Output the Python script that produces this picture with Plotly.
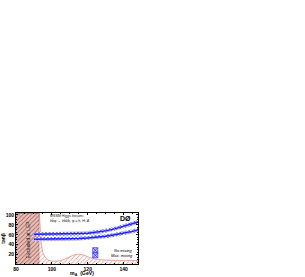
import plotly.graph_objects as go

# ---- data ----
ma_lim = [90, 95, 100, 105, 110, 115, 120, 125, 130, 135, 140, 145, 148]
tb_nomix = [61, 61, 61, 61.5, 62, 62.5, 63, 65, 68, 72, 77, 82, 86]
tb_maxmix = [51, 51, 51, 51.5, 52, 52.5, 53.5, 55, 57, 60, 63, 67, 70]
band_halfwidth = 4

lep_ma = [80, 93]
lep_top = 104

ma_low = [93, 93.5, 94, 94.5, 95, 96, 97, 98, 100, 103, 106, 109, 112, 115, 118, 121, 125, 130, 135, 140, 148]
tb_low = [104, 70, 45, 32, 24, 16, 12, 9, 7, 7, 9, 14, 19, 21, 19, 14, 10, 9, 8, 8, 8]

x_ticks = [80, 100, 120, 140]
y_ticks = [20, 40, 60, 80, 100]

FONT = "Liberation Sans"
BLUE = "#1f1fff"

fig = go.Figure()

# LEP excluded region
fig.add_trace(go.Scatter(
    x=[lep_ma[0], lep_ma[1], lep_ma[1], lep_ma[0]],
    y=[0, 0, lep_top, lep_top],
    fill="toself", mode="lines",
    line=dict(color="#a83a3a", width=0.8),
    fillcolor="#e3bcb4",
    fillpattern=dict(shape="/", fgcolor="#b0645c", bgcolor="#e6c4bd", size=3, solidity=0.3),
    hoverinfo="skip", showlegend=False))

# lower theoretical region
fig.add_trace(go.Scatter(
    x=ma_low + [ma_low[-1], ma_low[0]],
    y=tb_low + [0, 0],
    fill="toself", mode="lines",
    line=dict(color="#d89890", width=0.8),
    fillpattern=dict(shape="/", fgcolor="#e0aaa4", bgcolor="white", size=3, solidity=0.3),
    hoverinfo="skip", showlegend=False))

# bands
for vals in (tb_nomix, tb_maxmix):
    up = [v + band_halfwidth for v in vals]
    lo = [v - band_halfwidth for v in vals]
    fig.add_trace(go.Scatter(
        x=ma_lim + ma_lim[::-1], y=up + lo[::-1],
        fill="toself", mode="lines", line=dict(width=0),
        fillpattern=dict(shape="x", fgcolor="#4a4aff", bgcolor="white", size=2.5, solidity=0.5),
        hoverinfo="skip", showlegend=False))
    fig.add_trace(go.Scatter(
        x=ma_lim, y=vals, mode="lines", line=dict(color=BLUE, width=1.4),
        hoverinfo="skip", showlegend=False))

# legend markers on overlay axes
fig.add_trace(go.Scatter(
    x=[0.65, 0.65], y=[0.27, 0.17], mode="markers",
    marker=dict(symbol="square-x", size=5, color="#c8c8ff", line=dict(color=BLUE, width=0.7)),
    xaxis="x2", yaxis="y2", hoverinfo="skip", showlegend=False))

fig.update_layout(
    template="none",
    width=305, height=277,
    margin=dict(l=16, r=167, t=213, b=13, autoexpand=False),
    paper_bgcolor="white", plot_bgcolor="white",
    font=dict(family=FONT, color="black"),
    xaxis=dict(range=[80, 148], tickvals=x_ticks, ticks="inside", ticklen=2, tickwidth=0.8,
               tickcolor="black", automargin=False,
               showline=True, mirror="allticks", linecolor="black", linewidth=1,
               showgrid=False, zeroline=False,
               tickfont=dict(size=5, family=FONT, weight="bold", color="black"),
               minor=dict(ticks="inside", ticklen=1, dtick=5, tickcolor="black")),
    yaxis=dict(range=[1, 104], tickvals=y_ticks, ticks="inside", ticklen=2, tickwidth=0.8,
               tickcolor="black", automargin=False,
               showline=True, mirror="allticks", linecolor="black", linewidth=1,
               showgrid=False, zeroline=False,
               tickfont=dict(size=5, family=FONT, weight="bold", color="black"),
               minor=dict(ticks="inside", ticklen=1, dtick=5, tickcolor="black"),
               title=dict(text="tanβ", font=dict(size=5, family=FONT, weight="bold", color="black"), standoff=1)),
    xaxis2=dict(range=[0, 1], domain=[0, 1], overlaying="x", visible=False, anchor="y2", automargin=False),
    yaxis2=dict(range=[0, 1], domain=[0, 1], overlaying="y", visible=False, anchor="x2", automargin=False),
    annotations=[
        dict(text="<b>m<sub>A</sub>  (GeV)</b>", x=0.54, y=-0.085, xref="paper", yref="paper",
             xanchor="center", yanchor="top", showarrow=False,
             font=dict(size=5.2, family=FONT, color="black")),
        dict(text="<i>MSSM Higgs bosons</i>", x=0.26, y=0.94, xref="paper", yref="paper",
             xanchor="left", yanchor="middle", showarrow=False, font=dict(size=3.6, color="#222")),
        dict(text="<i>b</i>b̄φ → <i>b</i>b̄<i>b</i>b̄, φ = <i>h, H, A</i>", x=0.26, y=0.86, xref="paper", yref="paper",
             xanchor="left", yanchor="middle", showarrow=False, font=dict(size=3.6, color="#222")),
        dict(text="<b>DØ</b>", x=0.96, y=0.9, xref="paper", yref="paper",
             xanchor="right", yanchor="middle", showarrow=False, font=dict(size=7)),
        dict(text="<i>No mixing</i>", x=0.975, y=0.27, xref="paper", yref="paper",
             xanchor="right", yanchor="middle", showarrow=False, font=dict(size=4)),
        dict(text="<i>Max. mixing</i>", x=0.975, y=0.17, xref="paper", yref="paper",
             xanchor="right", yanchor="middle", showarrow=False, font=dict(size=4)),
        dict(text="Excluded at LEP", x=86.5, y=50, xref="x", yref="y", textangle=-90,
             showarrow=False, font=dict(size=5, color="#222")),
    ],
)

fig.write_html("out.html", config={"displayModeBar": False},
               post_script="document.body.style.margin='0';")
